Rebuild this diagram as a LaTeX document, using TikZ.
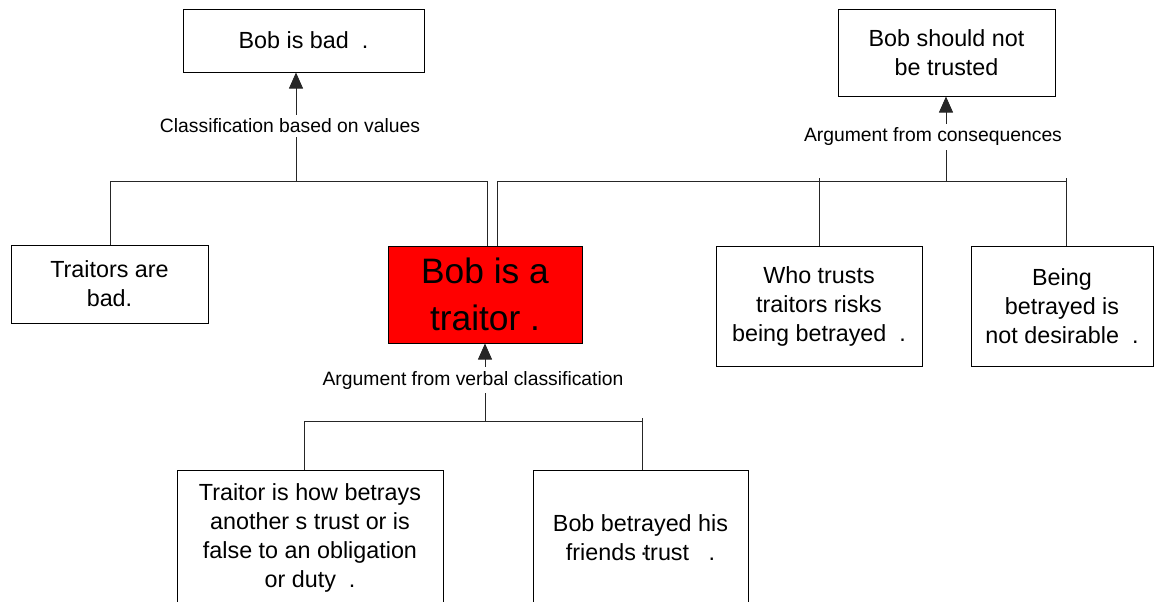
\documentclass[tikz,border=0pt]{standalone}
\usepackage{fontspec}
\setmainfont{Liberation Sans}
\usetikzlibrary{arrows.meta,positioning}
\tikzset
{
  argnode/.style     = {rectangle, draw=black, line width=0.75pt, align=center, inner sep=0pt, font=\fontsize{17.5}{21.75}\selectfont},
  keynode/.style     = {argnode, fill=red, font=\fontsize{26.5}{35}\selectfont},
  schemelabel/.style = {fill=white, inner xsep=1pt, inner ysep=3pt, font=\fontsize{14.5}{17}\selectfont},
  link/.style        = {draw=black!85, line width=0.6pt}
}

\begin{document}
\begin{tikzpicture}[x=0.75pt,y=-0.75pt,>={Triangle[width=10.5pt,length=12pt]}]
  \clip (0,0) rectangle (1154,601);
  % conclusions
  \node [argnode, minimum width=180.75pt, minimum height=47.25pt] (bad) at (303.5,40.5) {Bob is bad~ .};
  \node [argnode, minimum width=162.75pt, minimum height=65.25pt] (trusted) at (946.5,52.5) {Bob should not\\be trusted};
  % middle row
  \node [argnode, minimum width=147.75pt, minimum height=58.5pt] (traitorsbad) at (109.5,284) {Traitors are\\bad.};
  \node [keynode, minimum width=145.5pt, minimum height=72.75pt] (traitor) at (485,294.5) {Bob is a\\traitor .};
  \node [argnode, minimum width=154.5pt, minimum height=90pt] (whotrusts) at (819,306) {Who trusts\\traitors risks\\being betrayed~ .};
  \node [argnode, minimum width=136.5pt, minimum height=90pt] (being) at (1062,306) {Being\\betrayed is\\not desirable~ .};
  % bottom row
  \node [argnode, minimum width=199.5pt, minimum height=101.25pt] (definition) at (310,537.5) {Traitor is how betrays\\another s trust or is\\false to an obligation\\or duty~ .};
  \node [argnode, minimum width=161.25pt, minimum height=101.25pt] (betrayed) at (640.5,537.5) {Bob betrayed his\\friends\,·\!trust~~ .};

  % classification based on values
  \coordinate (valbarL) at (110,181);
  \coordinate (valbarR) at (487,181);
  \coordinate (valjoin) at (296,181);
  \draw [link] (valbarL |- traitorsbad.north) -- (valbarL) -- (valbarR) -- (valbarR |- traitor.north);
  \draw [link,->] (valjoin) -- (valjoin |- bad.south);
  \node [schemelabel] (vallabel) at (290,126) {Classification based on values};

  % argument from consequences
  \coordinate (conbarL) at (497,181);
  \coordinate (conbarR) at (1067,181);
  \coordinate (conjoin) at (946,181);
  \coordinate (contick1) at (819,178);
  \coordinate (contick2) at (1066,178);
  \draw [link] (conbarL |- traitor.north) -- (conbarL) -- (conbarR);
  \draw [link] (contick1) -- (contick1 |- whotrusts.north);
  \draw [link] (contick2) -- (contick2 |- being.north);
  \draw [link,->] (conjoin) -- (conjoin |- trusted.south);
  \node [schemelabel] (conlabel) at (933,137) {Argument from consequences};

  % argument from verbal classification
  \coordinate (verbarL) at (304,421);
  \coordinate (verbarR) at (643,421);
  \coordinate (verjoin) at (485,421);
  \coordinate (vertick) at (642,418);
  \draw [link] (verbarL |- definition.north) -- (verbarL) -- (verbarR);
  \draw [link] (vertick) -- (vertick |- betrayed.north);
  \draw [link,->] (verjoin) -- (verjoin |- traitor.south);
  \node [schemelabel] (verlabel) at (473,380) {Argument from verbal classification};
\end{tikzpicture}
\end{document}
